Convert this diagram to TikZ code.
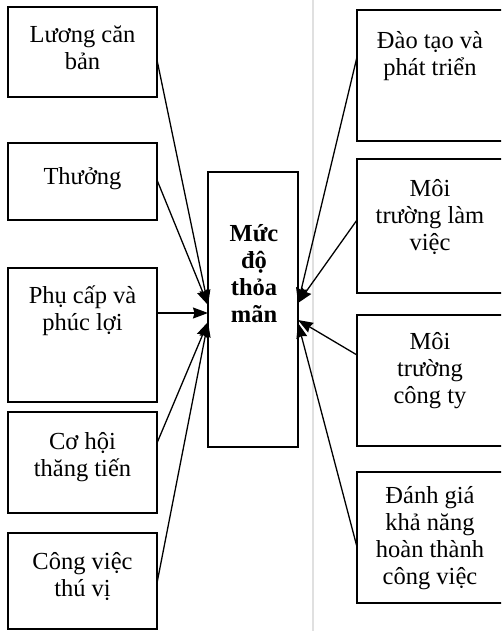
\documentclass[tikz,border=0pt]{standalone}
\usepackage{fontspec}
\setmainfont{Liberation Serif}
\usetikzlibrary{arrows.meta}
\begin{document}
\begin{tikzpicture}[x=1pt,y=-1pt,
  box/.style={draw, line width=1.6pt, inner sep=0pt, outer sep=0pt},
  txt/.style={anchor=north, align=center, inner sep=0pt, font=\fontsize{24.5}{27}\selectfont},
  btxt/.style={txt, font=\fontsize{24.5}{27}\selectfont\bfseries},
  conn/.style={line width=1.3pt, -{Stealth[length=15pt,width=11pt,inset=1.5pt]}}]
\clip (0,0) rectangle (501,631);
\fill[white] (0,0) rectangle (501,631);
\draw[black!12, line width=1.5pt] (313,0) -- (313,631);
% left boxes
\node[box, minimum width=149pt, minimum height=90pt] (b1) at (82.5,52) {};
\node[box, minimum width=149pt, minimum height=77pt] (b2) at (82.5,181.5) {};
\node[box, minimum width=149pt, minimum height=134pt] (b3) at (82.5,335) {};
\node[box, minimum width=149pt, minimum height=101pt] (b4) at (82.5,462.5) {};
\node[box, minimum width=149pt, minimum height=96pt] (b5) at (82.5,581) {};
% centre
\node[box, minimum width=90pt, minimum height=275pt] (c) at (253,309.5) {};
% right boxes
\node[box, minimum width=146pt, minimum height=131pt] (r1) at (430,75.5) {};
\node[box, minimum width=146pt, minimum height=134pt] (r2) at (430,226) {};
\node[box, minimum width=146pt, minimum height=131pt] (r3) at (430,380.5) {};
\node[box, minimum width=146pt, minimum height=131pt] (r4) at (430,537.5) {};
% texts
\node[txt] (t1) at (82.5,26) {Lương căn\\bản};
\node[txt] (t2) at (82.5,167) {Thưởng};
\node[txt] (t3) at (82.5,286) {Phụ cấp và\\phúc lợi};
\node[txt] (t4) at (82.5,432) {Cơ hội\\thăng tiến};
\node[txt] (t5) at (82.5,552) {Công việc\\thú vị};
\node[btxt] (tc) at (254,224) {Mức\\độ\\thỏa\\mãn};
\node[txt] (u1) at (430,31) {Đào tạo và\\phát triển};
\node[txt] (u2) at (430,179) {Môi\\trường làm\\việc};
\node[txt] (u3) at (430,332) {Môi\\trường\\công ty};
\node[txt] (u4) at (430,486) {Đánh giá\\khả năng\\hoàn thành\\công việc};
% connectors left
\draw[conn] ([yshift=-8pt]b1.east) -- ([yshift=4.5pt]c.west);
\draw[conn] ([yshift=1.5pt]b2.east) -- ([yshift=4.5pt]c.west);
\draw[conn] ([yshift=22pt]b3.east) -- ([yshift=-3.5pt]c.west);
\draw[conn] ([yshift=19.5pt]b4.east) -- ([yshift=-12.5pt]c.west);
\draw[conn] ([yshift=-2pt]b5.east) -- ([yshift=-12.5pt]c.west);
% connectors right
\draw[conn] ([yshift=18.5pt]r1.west) -- ([yshift=6.5pt]c.east);
\draw[conn] ([yshift=6pt]r2.west) -- ([yshift=6.5pt]c.east);
\draw[conn] ([yshift=25.5pt]r3.west) -- ([yshift=-10.5pt]c.east);
\draw[conn] ([yshift=-9.5pt]r4.west) -- ([yshift=-13.5pt]c.east);
\end{tikzpicture}
\end{document}
